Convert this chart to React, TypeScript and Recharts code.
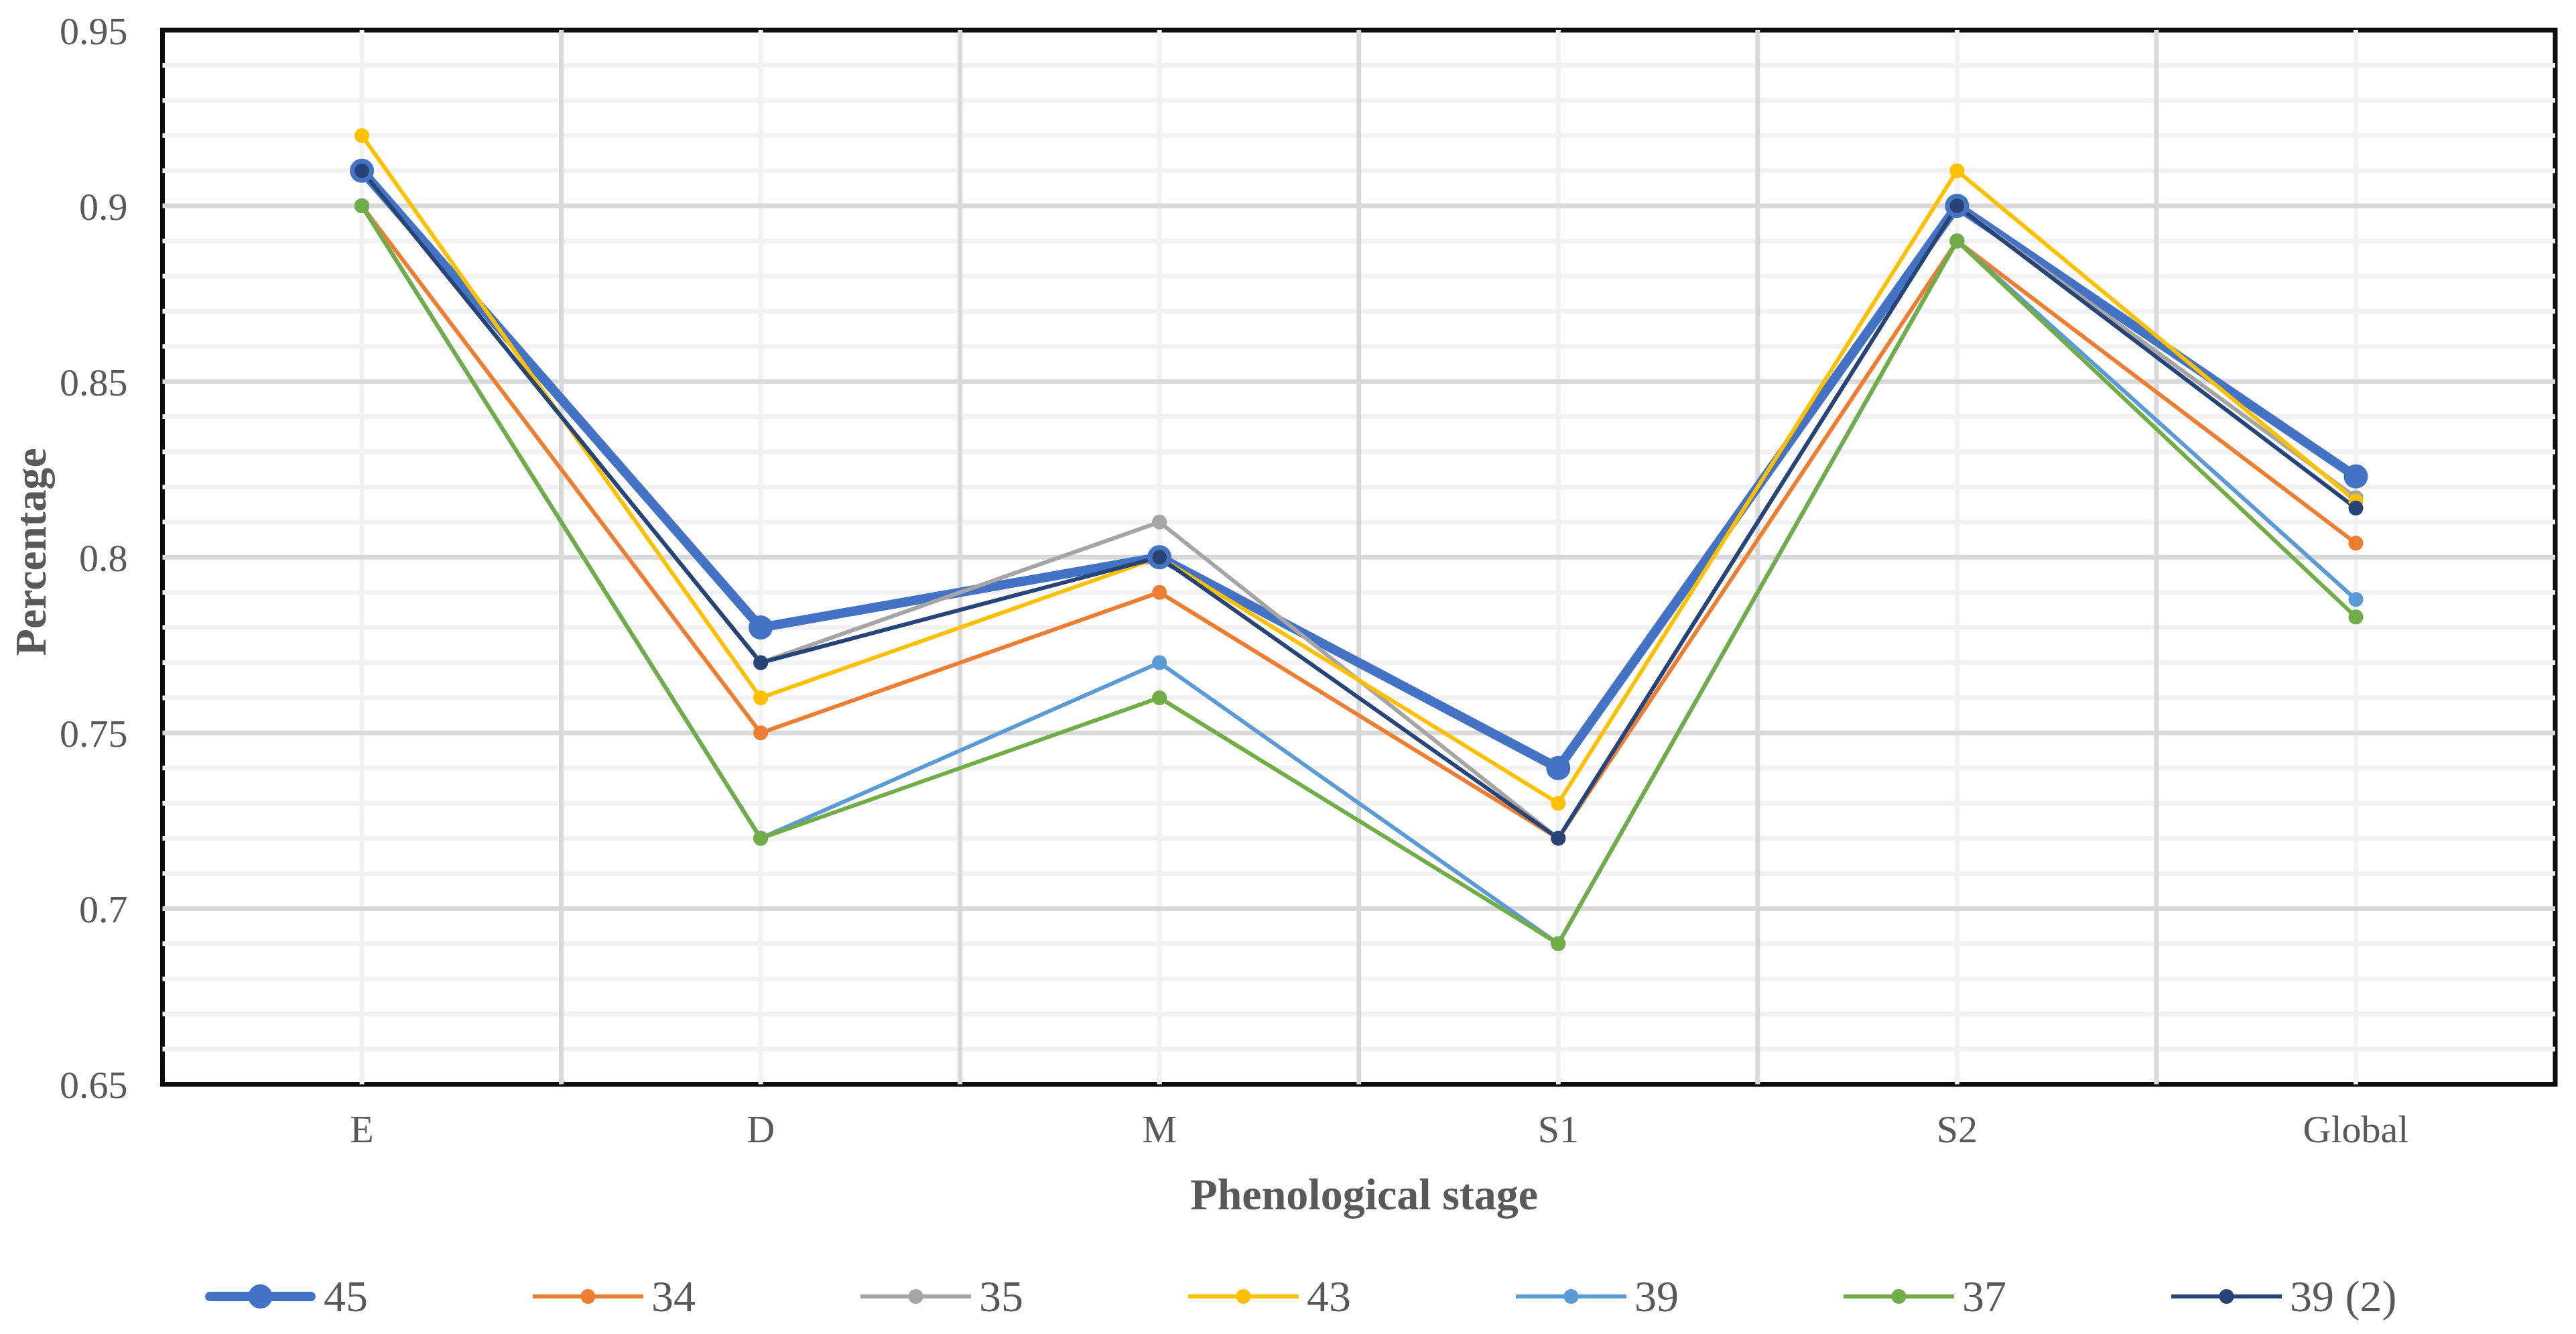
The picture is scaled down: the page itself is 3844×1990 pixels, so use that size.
import {
  LineChart,
  Line,
  XAxis,
  YAxis,
  ReferenceLine,
  ReferenceArea,
  Legend,
} from "recharts"

const stages = ["E", "D", "M", "S1", "S2", "Global"]

// one array per model
const s45 = [0.91, 0.78, 0.8, 0.74, 0.9, 0.823]
const s34 = [0.9, 0.75, 0.79, 0.72, 0.89, 0.804]
const s35 = [0.91, 0.77, 0.81, 0.72, 0.9, 0.817]
const s43 = [0.92, 0.76, 0.8, 0.73, 0.91, 0.816]
const s39 = [0.9, 0.72, 0.77, 0.69, 0.89, 0.788]
const s37 = [0.9, 0.72, 0.76, 0.69, 0.89, 0.783]
const s39b = [0.91, 0.77, 0.8, 0.72, 0.9, 0.814]

const yTicks = [0.65, 0.7, 0.75, 0.8, 0.85, 0.9, 0.95]

const series = [
  { key: "45", name: "45", values: s45, color: "#4472C4", width: 14, r: 18 },
  { key: "34", name: "34", values: s34, color: "#ED7D31", width: 6, r: 11 },
  { key: "35", name: "35", values: s35, color: "#A5A5A5", width: 6, r: 11 },
  { key: "43", name: "43", values: s43, color: "#FFC000", width: 6, r: 11 },
  { key: "39", name: "39", values: s39, color: "#5B9BD5", width: 6, r: 11 },
  { key: "37", name: "37", values: s37, color: "#70AD47", width: 6, r: 11 },
  { key: "39b", name: "39 (2)", values: s39b, color: "#264478", width: 6, r: 11 },
]

const data = stages.map((stage, i) => {
  const row: Record<string, number | string> = { idx: i, stage }
  series.forEach((s) => {
    row[s.key] = s.values[i]
  })
  return row
})

// gridline positions
const minorY: number[] = []
for (let k = 66; k < 95; k++) if (k % 5 !== 0) minorY.push(k / 100)
const majorY = [0.7, 0.75, 0.8, 0.85, 0.9]
const minorX = stages.map((_, i) => i)
const majorX = stages.slice(1).map((_, i) => i + 0.5)

const FONT = "'Liberation Serif', 'Times New Roman', serif"
const TEXT = "#595959"
const GRID_MINOR = "#F2F2F2"
const GRID_MAJOR = "#D9D9D9"

const W = 3828
const H = 1974

function LegendContent() {
  return (
    <div
      style={{
        display: "flex",
        alignItems: "center",
        gap: "246px",
        fontFamily: FONT,
        fontSize: "66px",
        color: TEXT,
        height: "80px",
      }}
    >
      {series.map((s) => (
        <div key={s.key} style={{ display: "flex", alignItems: "center" }}>
          <svg width={165} height={40} style={{ display: "block" }}>
            <line
              x1={s.width > 6 ? 7 : 0}
              x2={s.width > 6 ? 158 : 165}
              y1={20}
              y2={20}
              stroke={s.color}
              strokeWidth={s.width > 6 ? 14 : 6}
              strokeLinecap={s.width > 6 ? "round" : "butt"}
            />
            <circle cx={82.5} cy={20} r={s.width > 6 ? 18 : 11} fill={s.color} />
          </svg>
          <span style={{ marginLeft: "12px", lineHeight: "80px" }}>{s.name}</span>
        </div>
      ))}
    </div>
  )
}

function XTitle({ viewBox }: any) {
  return (
    <text
      x={viewBox.x + viewBox.width / 2 + 8}
      y={viewBox.y + 186.5}
      textAnchor="middle"
      fill={TEXT}
      fontFamily={FONT}
      fontSize={66}
      fontWeight="bold"
    >
      Phenological stage
    </text>
  )
}

function YTitle({ viewBox }: any) {
  const cx = 60
  const cy = viewBox.y + viewBox.height / 2 - 8
  return (
    <text
      x={cx}
      y={cy}
      transform={`rotate(-90, ${cx}, ${cy})`}
      textAnchor="middle"
      fill={TEXT}
      fontFamily={FONT}
      fontSize={66}
      fontWeight="bold"
    >
      Percentage
    </text>
  )
}

export default function App() {
  return (
    <div style={{ width: W, height: H, background: "#fff" }}>
      <LineChart
        width={W}
        height={H}
        data={data}
        margin={{ top: 37, right: 23, bottom: 0, left: 0 }}
      >
        <XAxis
          type="number"
          dataKey="idx"
          domain={[-0.5, 5.5]}
          ticks={minorX}
          tickFormatter={(v) => stages[v] ?? ""}
          axisLine={false}
          tickLine={false}
          tickSize={0}
          tickMargin={45}
          height={364.5}
          tick={{ fill: TEXT, fontFamily: FONT, fontSize: 58 }}
          label={<XTitle />}
          allowDataOverflow
        />
        <YAxis
          type="number"
          domain={[0.65, 0.95]}
          ticks={yTicks}
          tickFormatter={(v) => String(Number(v.toFixed(2)))}
          axisLine={false}
          tickLine={false}
          tickSize={0}
          tickMargin={52}
          width={234.5}
          tick={{ fill: TEXT, fontFamily: FONT, fontSize: 58 }}
          label={<YTitle />}
          allowDataOverflow
        />

        {minorY.map((v) => (
          <ReferenceLine key={`my${v}`} y={v} stroke={GRID_MINOR} strokeWidth={7} />
        ))}
        {minorX.map((v) => (
          <ReferenceLine key={`mx${v}`} x={v} stroke={GRID_MINOR} strokeWidth={7} />
        ))}
        {majorY.map((v) => (
          <ReferenceLine key={`My${v}`} y={v} stroke={GRID_MAJOR} strokeWidth={7} />
        ))}
        {majorX.map((v) => (
          <ReferenceLine key={`Mx${v}`} x={v} stroke={GRID_MAJOR} strokeWidth={7} />
        ))}
        <ReferenceArea
          x1={-0.5}
          x2={5.5}
          y1={0.65}
          y2={0.95}
          fill="none"
          fillOpacity={0}
          stroke="#0D0D0D"
          strokeWidth={7}
          strokeOpacity={1}
        />

        {series.map((s) => (
          <Line
            key={s.key}
            dataKey={s.key}
            name={s.name}
            type="linear"
            stroke={s.color}
            strokeWidth={s.width}
            strokeLinejoin="round"
            dot={{ r: s.r, fill: s.color, stroke: "none", strokeWidth: 0 }}
            activeDot={false}
            isAnimationActive={false}
          />
        ))}

        <Legend
          layout="horizontal"
          verticalAlign="middle"
          align="center"
          content={<LegendContent />}
          wrapperStyle={{ position: "absolute", left: 298, top: 1886, width: "auto" }}
        />
      </LineChart>
    </div>
  )
}
